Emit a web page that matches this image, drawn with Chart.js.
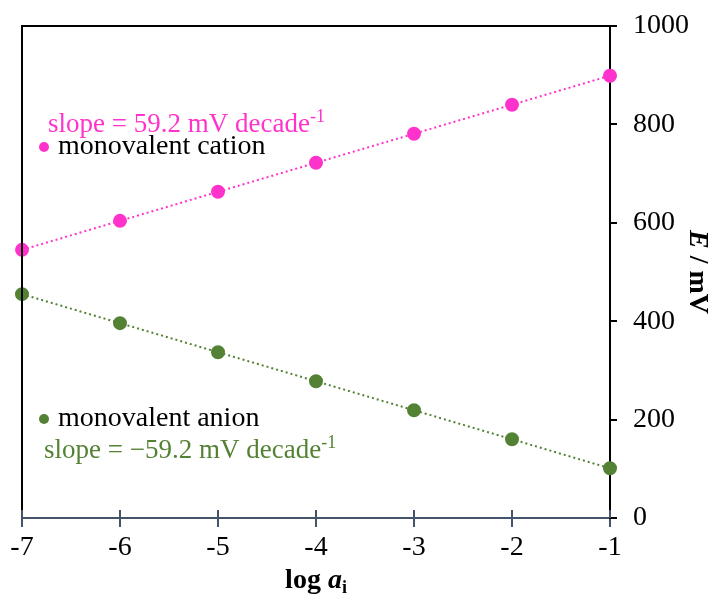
<!DOCTYPE html>
<html>
<head>
<meta charset="utf-8">
<script src="https://cdn.jsdelivr.net/npm/chart.js@4/dist/chart.umd.min.js"></script>
<style>
  body { margin: 0; background: #fff; }
  #wrap { width: 712px; height: 597px; position: relative; }
</style>
</head>
<body>
<div id="wrap"><canvas id="c"></canvas></div>
<script>
// log a_i values and electrode potentials (mV)
const logA = [-7, -6, -5, -4, -3, -2, -1];
const cationE = [545, 604, 663, 722, 781, 840, 899];
const anionE = [455, 396, 337, 278, 219, 160, 101];
const xTicks = [-7, -6, -5, -4, -3, -2, -1];
const yTicks = [0, 200, 400, 600, 800, 1000];

const PINK = '#ff33cc';
const GREEN = '#548235';
const FONT = '"Liberation Serif", "Times New Roman", serif';
const FS = 28;

const pts = ys => logA.map((x, i) => ({ x: x, y: ys[i] }));

// axis titles, frame and in-plot labels
const extras = {
  id: 'extras',
  afterDraw(chart) {
    const { ctx, chartArea: a } = chart;
    ctx.save();
    // left + top frame
    ctx.strokeStyle = '#000';
    ctx.lineWidth = 2;
    ctx.beginPath();
    ctx.moveTo(a.left, a.bottom - 8);
    ctx.lineTo(a.left, a.top);
    ctx.lineTo(a.right + 7, a.top);
    ctx.stroke();
    // inner halves of x ticks
    ctx.strokeStyle = '#44546a';
    const xs = chart.scales.x;
    xTicks.forEach(t => {
      const px = xs.getPixelForValue(t);
      ctx.beginPath();
      ctx.moveTo(px, a.bottom);
      ctx.lineTo(px, a.bottom - 8);
      ctx.stroke();
    });

    // labels with superscripts
    const sup = (txt, supTxt, x, y, color, size) => {
      ctx.font = size + 'px ' + FONT;
      ctx.fillStyle = color;
      ctx.textBaseline = 'alphabetic';
      ctx.textAlign = 'left';
      ctx.fillText(txt, x, y);
      const w = ctx.measureText(txt).width;
      ctx.font = Math.round(size * 0.65) + 'px ' + FONT;
      ctx.fillText(supTxt, x + w, y - size * 0.38);
    };
    const dotLabel = (txt, x, y, color) => {
      ctx.fillStyle = color;
      ctx.beginPath();
      ctx.arc(x, y - 7, 5, 0, Math.PI * 2);
      ctx.fill();
      ctx.font = FS + 'px ' + FONT;
      ctx.fillStyle = '#000';
      ctx.textAlign = 'left';
      ctx.textBaseline = 'alphabetic';
      ctx.fillText(txt, x + 14, y);
    };
    sup('slope = 59.2 mV decade', '-1', a.left + 26, a.top + 106, PINK, 27);
    dotLabel('monovalent cation', a.left + 22, a.top + 128, PINK);
    dotLabel('monovalent anion', a.left + 22, a.top + 400, GREEN);
    sup('slope = \u221259.2 mV decade', '-1', a.left + 22, a.top + 432, GREEN, 27);

    // x title: log a_i
    ctx.fillStyle = '#000';
    ctx.textBaseline = 'alphabetic';
    ctx.textAlign = 'left';
    const cx = (a.left + a.right) / 2;
    const ty = 588;
    ctx.font = 'bold ' + FS + 'px ' + FONT;
    const w1 = ctx.measureText('log ').width;
    ctx.font = 'italic bold ' + FS + 'px ' + FONT;
    const w2 = ctx.measureText('a').width;
    ctx.font = 'bold 18px ' + FONT;
    const w3 = ctx.measureText('i').width;
    let x0 = cx - (w1 + w2 + w3) / 2;
    ctx.font = 'bold ' + FS + 'px ' + FONT;
    ctx.fillText('log ', x0, ty);
    ctx.font = 'italic bold ' + FS + 'px ' + FONT;
    ctx.fillText('a', x0 + w1, ty);
    ctx.font = 'bold 18px ' + FONT;
    ctx.fillText('i', x0 + w1 + w2, ty + 5);

    // y title: E / mV, rotated clockwise
    ctx.translate(697, (a.top + a.bottom) / 2);
    ctx.rotate(Math.PI / 2);
    ctx.font = 'italic bold ' + FS + 'px ' + FONT;
    const e1 = ctx.measureText('E').width;
    ctx.font = 'bold ' + FS + 'px ' + FONT;
    const e2 = ctx.measureText(' / mV').width;
    const sx = -(e1 + e2) / 2;
    ctx.textBaseline = 'middle';
    ctx.font = 'italic bold ' + FS + 'px ' + FONT;
    ctx.fillText('E', sx, 0);
    ctx.font = 'bold ' + FS + 'px ' + FONT;
    ctx.fillText(' / mV', sx + e1, 0);
    ctx.restore();
  }
};

new Chart(document.getElementById('c'), {
  type: 'scatter',
  data: {
    datasets: [
      {
        label: 'monovalent cation',
        data: pts(cationE),
        showLine: true,
        clip: false,
        borderColor: PINK,
        backgroundColor: PINK,
        borderWidth: 2,
        borderDash: [2, 3],
        pointRadius: 6,
        pointHoverRadius: 6
      },
      {
        label: 'monovalent anion',
        data: pts(anionE),
        showLine: true,
        clip: false,
        borderColor: GREEN,
        backgroundColor: GREEN,
        borderWidth: 2,
        borderDash: [2, 3],
        pointRadius: 6,
        pointHoverRadius: 6
      }
    ]
  },
  options: {
    responsive: true,
    maintainAspectRatio: false,
    animation: false,
    layout: { padding: { left: 22, top: 26, right: 0, bottom: 0 } },
    plugins: { legend: { display: false }, tooltip: { enabled: false } },
    scales: {
      x: {
        type: 'linear',
        position: 'bottom',
        min: -7,
        max: -1,
        afterBuildTicks: s => { s.ticks = xTicks.map(v => ({ value: v })); },
        afterFit: s => { s.height = 79; },
        border: { color: '#44546a', width: 2 },
        grid: { drawOnChartArea: false, color: '#44546a', lineWidth: 2, tickLength: 9 },
        ticks: { color: '#000', font: { family: FONT, size: FS }, padding: 4, callback: v => String(v) }
      },
      y: {
        position: 'right',
        min: 0,
        max: 1000,
        afterBuildTicks: s => { s.ticks = yTicks.map(v => ({ value: v })); },
        afterFit: s => { s.width = 102; s.paddingTop = 0; s.paddingBottom = 0; },
        border: { color: '#000', width: 2 },
        grid: { drawOnChartArea: false, color: '#000', lineWidth: 2, tickLength: 7 },
        ticks: { color: '#000', font: { family: FONT, size: FS }, padding: 16, callback: v => String(v) }
      }
    }
  },
  plugins: [extras]
});
</script>
</body>
</html>
